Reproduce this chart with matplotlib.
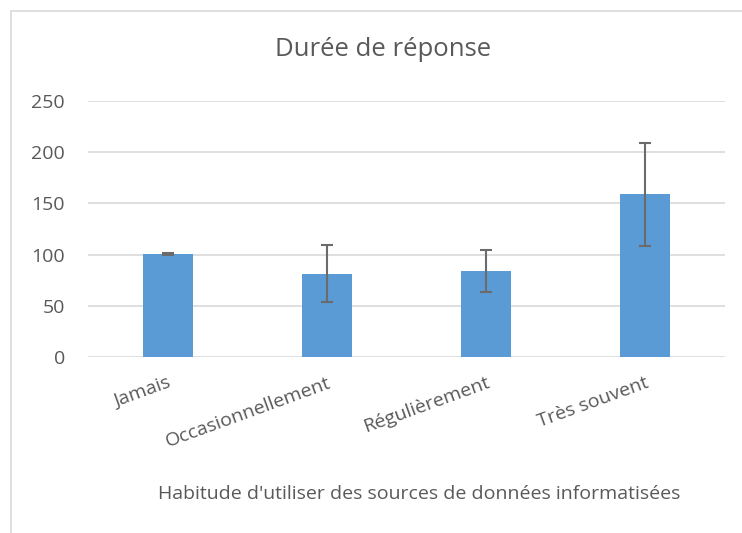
import matplotlib.pyplot as plt
from matplotlib.patches import Rectangle

categories = ["Jamais", "Occasionnellement", "Régulièrement", "Très souvent"]
durations = [101, 81.5, 84, 158.7]
errors = [1, 28, 20.5, 50]
yticks = [0, 50, 100, 150, 200, 250]

plt.rcParams['font.family'] = ['Open Sans', 'DejaVu Sans']
txt = '#595959'

fig = plt.figure(figsize=(7.42, 5.33), dpi=100)
ax = fig.add_axes([88 / 742, 1 - 357.3 / 533, (725 - 88) / 742, (357.3 - 100.7) / 533])

x = range(len(categories))
ax.bar(x, durations, width=0.314, color='#5B9BD5', zorder=2)
ax.errorbar(x, durations, yerr=errors, fmt='none', ecolor='#6b6b6b',
            elinewidth=1.5, capsize=4.3, capthick=1.5, zorder=3)

ax.set_xlim(-0.5, len(categories) - 0.5)
ax.set_ylim(0, 250)
ax.set_yticks(yticks)
ax.set_yticklabels([str(v) for v in yticks], fontsize=14, color=txt)
ax.set_xticks(list(x))
ax.set_xticklabels(categories, rotation=20, ha='right', rotation_mode='anchor',
                   fontsize=14, color=txt)
ax.tick_params(axis='both', length=0)
ax.tick_params(axis='y', pad=16.5)
ax.tick_params(axis='x', pad=12)
ax.grid(axis='y', color='#D9D9D9', linewidth=1.2, zorder=0)
for s in ax.spines.values():
    s.set_visible(False)

fig.text(383 / 742, 1 - 50 / 533, "Durée de réponse", ha='center', va='center',
         fontsize=18.5, color=txt)
fig.text(419 / 742, 1 - 494 / 533,
         "Habitude d'utiliser des sources de données informatisées",
         ha='center', va='center', fontsize=14, color=txt)

# chart frame
fig.patches.append(Rectangle((11 / 742, -0.1), 1.1, 1 - 11 / 533 + 0.1,
                             transform=fig.transFigure, fill=False,
                             edgecolor='#D9D9D9', linewidth=1.2))

fig.savefig('out.png', dpi=100)
